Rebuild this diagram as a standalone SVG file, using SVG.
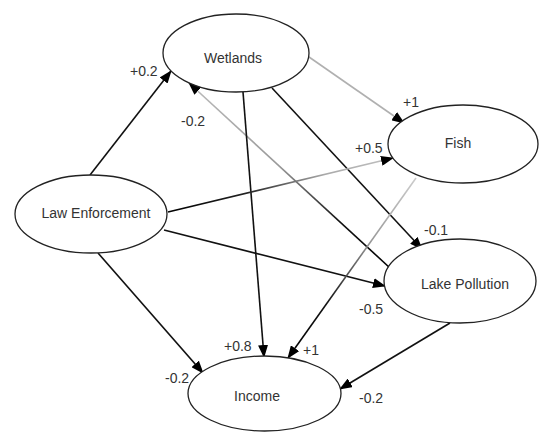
<svg xmlns="http://www.w3.org/2000/svg" width="541" height="432" viewBox="0 0 541 432">
<style>
.node ellipse{fill:#fff;stroke:#222;stroke-width:1.3}
.node text{font-family:"Liberation Sans",Arial,sans-serif;font-size:14px;fill:#333;text-anchor:middle}
.lbl{font-family:"Liberation Sans",Arial,sans-serif;font-size:14px;fill:#333}
.e{fill:none;stroke-width:1.6;marker-end:url(#ah)}
.k{stroke:#111}
</style>
<defs>
<marker id="ah" markerUnits="userSpaceOnUse" markerWidth="13" markerHeight="10" refX="12" refY="5" orient="auto">
<path d="M0,0 L13,5 L0,10 z" fill="#000"/>
</marker>
<linearGradient id="g3" gradientUnits="userSpaceOnUse" x1="189" y1="83" x2="390" y2="268">
<stop offset="0" stop-color="#bbb"/><stop offset="0.45" stop-color="#999"/><stop offset="0.75" stop-color="#111"/><stop offset="1" stop-color="#000"/>
</linearGradient>
<linearGradient id="g6" gradientUnits="userSpaceOnUse" x1="168" y1="212" x2="393" y2="158">
<stop offset="0" stop-color="#000"/><stop offset="0.35" stop-color="#222"/><stop offset="0.7" stop-color="#aaa"/><stop offset="1" stop-color="#c0c0c0"/>
</linearGradient>
<linearGradient id="g9" gradientUnits="userSpaceOnUse" x1="416" y1="178" x2="288" y2="358">
<stop offset="0" stop-color="#ccc"/><stop offset="0.35" stop-color="#999"/><stop offset="0.7" stop-color="#111"/><stop offset="1" stop-color="#000"/>
</linearGradient>
</defs>
<g id="connectors">
<line class="e k" x1="90" y1="175" x2="171" y2="71"/>
<line class="e" stroke="#b0b0b0" stroke-width="1.1" x1="309" y1="57" x2="404" y2="123"/>
<line class="e" stroke="url(#g3)" x1="390" y1="268" x2="189" y2="83"/>
<line class="e k" x1="243" y1="92" x2="264" y2="357"/>
<line class="e k" x1="272" y1="88" x2="422" y2="249"/>
<line class="e" stroke="url(#g6)" x1="168" y1="212" x2="393" y2="158"/>
<line class="e k" x1="164" y1="230" x2="385" y2="286"/>
<line class="e k" x1="98" y1="253" x2="203" y2="373"/>
<line class="e" stroke="url(#g9)" x1="416" y1="178" x2="288" y2="358"/>
<line class="e k" x1="450" y1="323" x2="340" y2="389"/>
</g>
<g id="wetlands" class="node"><ellipse cx="236" cy="53" rx="73" ry="39"/><text x="233" y="63">Wetlands</text></g>
<g id="fish" class="node"><ellipse cx="463" cy="144" rx="75" ry="39"/><text x="458" y="148">Fish</text></g>
<g id="law-enforcement" class="node"><ellipse cx="91" cy="214" rx="76" ry="39"/><text x="96" y="218">Law Enforcement</text></g>
<g id="lake-pollution" class="node"><ellipse cx="460" cy="281" rx="76" ry="42"/><text x="465" y="289">Lake Pollution</text></g>
<g id="income" class="node"><ellipse cx="264.5" cy="393.5" rx="76.5" ry="37.5"/><text x="257" y="401">Income</text></g>
<g id="labels">
<text class="lbl" x="130" y="76">+0.2</text>
<text class="lbl" x="181" y="126">-0.2</text>
<text class="lbl" x="403" y="107">+1</text>
<text class="lbl" x="355" y="153">+0.5</text>
<text class="lbl" x="424" y="235">-0.1</text>
<text class="lbl" x="359" y="314">-0.5</text>
<text class="lbl" x="224" y="351">+0.8</text>
<text class="lbl" x="303" y="355">+1</text>
<text class="lbl" x="165" y="383">-0.2</text>
<text class="lbl" x="359" y="403">-0.2</text>
</g>
</svg>
